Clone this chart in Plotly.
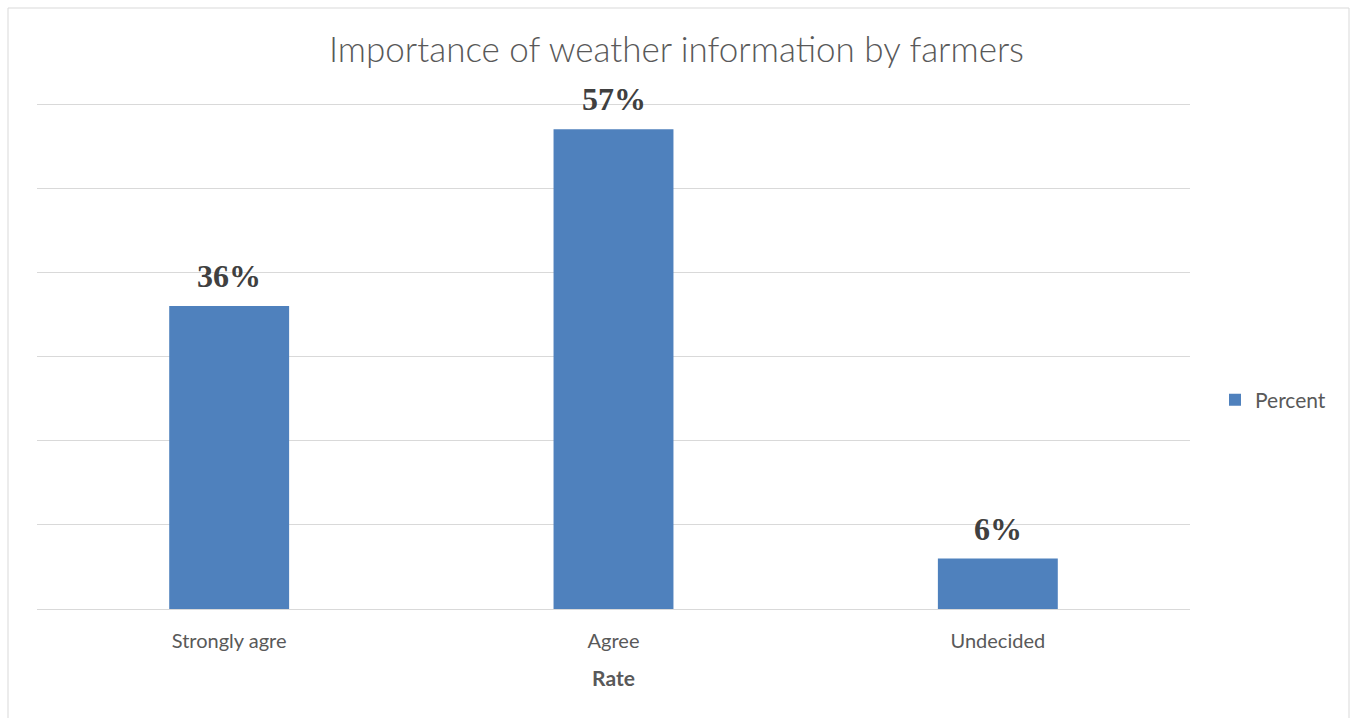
import plotly.graph_objects as go

categories = ["Strongly agre", "Agree", "Undecided"]
percent = [36, 57, 6]
series_name = "Percent"
chart_title = "Importance of weather information by farmers"
x_title = "Rate"

W, H = 1353, 718
L, R, T, B = 37, 163, 102, 109
pw, ph = W - L - R, H - T - B
unit_px = 505 / 60.0
y_top = ph / unit_px

def px_x(p):
    return (p - L) / pw

def px_y(p):
    return (H - B - p) / ph

fig = go.Figure()
fig.add_trace(go.Bar(
    x=categories, y=percent, name=series_name,
    marker=dict(color="#4F81BD", line=dict(width=0)),
    hoverinfo="x+y", showlegend=True,
))

for c, v in zip(categories, percent):
    fig.add_annotation(
        x=c, y=v, text=f"<b>{v}%</b>", showarrow=False, yanchor="bottom",
        yshift=10, font=dict(family="Liberation Serif", size=32, color="#404040"),
    )

fig.update_layout(
    width=W, height=H,
    margin=dict(l=L, r=R, t=T, b=B),
    paper_bgcolor="white", plot_bgcolor="white",
    bargap=0.688,
    title=dict(text=chart_title, x=0.5, xref="container", xanchor="center",
               y=1 - 50 / H, yanchor="middle", yref="container",
               font=dict(family="Lato", size=35, color="#595959", weight=300)),
    xaxis=dict(showline=True, linecolor="#d9d9d9", linewidth=1,
               ticks="outside", ticklen=14, tickcolor="rgba(0,0,0,0)",
               tickfont=dict(family="Lato", size=20, color="#595959"),
               title=dict(text=x_title, standoff=20,
                          font=dict(family="Lato", size=21, color="#595959", weight="bold")),
               showgrid=False),
    yaxis=dict(range=[0, y_top], tick0=0, dtick=10, showticklabels=False, gridcolor="#d9d9d9",
               gridwidth=1, zeroline=False, showline=False),
    legend=dict(x=px_x(1215), y=px_y(400), xanchor="left", yanchor="middle",
                font=dict(family="Lato", size=21, color="#595959"),
                itemwidth=30, bgcolor="rgba(0,0,0,0)"),
    shapes=[dict(type="rect", xref="paper", yref="paper",
                 x0=px_x(8), x1=px_x(1349), y0=px_y(730), y1=px_y(8),
                 line=dict(color="#d9d9d9", width=1), fillcolor="rgba(0,0,0,0)", layer="below")],
)

fig.write_html("out.html")
